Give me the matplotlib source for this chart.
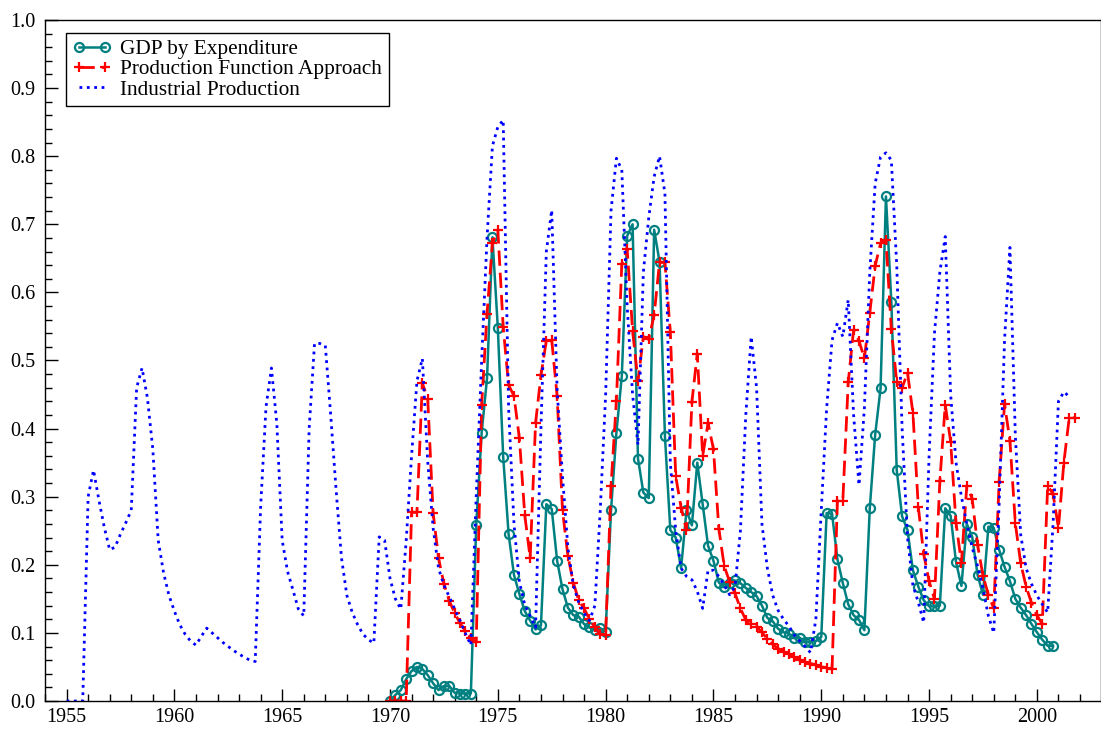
import numpy as np
import matplotlib.pyplot as plt
from matplotlib.ticker import MultipleLocator, FormatStrFormatter

plt.rcParams['font.family'] = ['Liberation Serif', 'DejaVu Serif']

# 季度数据 (quarterly)
gdp_start = 1970.0
gdp = [0.000, 0.009, 0.016, 0.032,
       0.044, 0.050, 0.047, 0.038,
       0.026, 0.016, 0.022, 0.022,
       0.012, 0.011, 0.011, 0.011,
       0.258, 0.394, 0.474, 0.681,
       0.548, 0.358, 0.245, 0.185,
       0.157, 0.132, 0.118, 0.105,
       0.111, 0.289, 0.282, 0.206,
       0.164, 0.137, 0.126, 0.124,
       0.113, 0.108, 0.104, 0.107,
       0.102, 0.280, 0.394, 0.477,
       0.683, 0.700, 0.356, 0.306,
       0.298, 0.692, 0.645, 0.389,
       0.251, 0.240, 0.195, 0.280,
       0.258, 0.350, 0.289, 0.228,
       0.206, 0.174, 0.167, 0.174,
       0.177, 0.173, 0.166, 0.160,
       0.154, 0.140, 0.122, 0.117,
       0.106, 0.101, 0.099, 0.092,
       0.093, 0.086, 0.087, 0.088,
       0.094, 0.276, 0.275, 0.208,
       0.173, 0.142, 0.126, 0.119,
       0.104, 0.283, 0.391, 0.459,
       0.741, 0.586, 0.339, 0.271,
       0.251, 0.192, 0.168, 0.148,
       0.139, 0.139, 0.140, 0.283,
       0.272, 0.204, 0.169, 0.260,
       0.241, 0.185, 0.156, 0.256,
       0.254, 0.222, 0.197, 0.176,
       0.150, 0.137, 0.126, 0.113,
       0.101, 0.090, 0.081, 0.081]

pfa_start = 1970.0
pfa = [0.000, 0.000, 0.000, 0.000,
       0.277, 0.277, 0.467, 0.443,
       0.276, 0.210, 0.172, 0.147,
       0.129, 0.114, 0.103, 0.092,
       0.087, 0.435, 0.569, 0.672,
       0.692, 0.549, 0.464, 0.448,
       0.386, 0.273, 0.210, 0.408,
       0.478, 0.529, 0.530, 0.448,
       0.280, 0.213, 0.174, 0.148,
       0.136, 0.120, 0.109, 0.098,
       0.097, 0.316, 0.441, 0.642,
       0.663, 0.544, 0.470, 0.535,
       0.531, 0.567, 0.644, 0.644,
       0.542, 0.330, 0.284, 0.251,
       0.439, 0.510, 0.360, 0.408,
       0.370, 0.253, 0.198, 0.175,
       0.158, 0.136, 0.119, 0.113,
       0.109, 0.101, 0.091, 0.083,
       0.077, 0.072, 0.069, 0.064,
       0.060, 0.058, 0.055, 0.053,
       0.050, 0.049, 0.047, 0.294,
       0.294, 0.468, 0.545, 0.529,
       0.503, 0.570, 0.639, 0.672,
       0.677, 0.546, 0.469, 0.460,
       0.482, 0.423, 0.285, 0.216,
       0.176, 0.150, 0.323, 0.435,
       0.381, 0.261, 0.203, 0.316,
       0.297, 0.229, 0.184, 0.156,
       0.136, 0.322, 0.436, 0.382,
       0.261, 0.202, 0.168, 0.144,
       0.126, 0.113, 0.316, 0.304,
       0.254, 0.350, 0.416, 0.416]

ip_start = 1955.0
ip = [0.000, 0.000, 0.000, 0.000,
      0.300, 0.339, 0.295, 0.255,
      0.222, 0.226, 0.245, 0.262,
      0.280, 0.460, 0.489, 0.445,
      0.370, 0.236, 0.188, 0.155,
      0.132, 0.112, 0.098, 0.088,
      0.082, 0.095, 0.107, 0.100,
      0.093, 0.086, 0.080, 0.074,
      0.069, 0.064, 0.060, 0.058,
      0.285, 0.432, 0.489, 0.408,
      0.236, 0.190, 0.163, 0.135,
      0.125, 0.400, 0.525, 0.525,
      0.522, 0.420, 0.310, 0.210,
      0.155, 0.130, 0.112, 0.098,
      0.090, 0.085, 0.241, 0.236,
      0.180, 0.150, 0.135, 0.235,
      0.360, 0.470, 0.503, 0.351,
      0.254, 0.195, 0.170, 0.153,
      0.135, 0.118, 0.099, 0.082,
      0.302, 0.500, 0.680, 0.815,
      0.843, 0.853, 0.430, 0.260,
      0.175, 0.141, 0.125, 0.108,
      0.401, 0.660, 0.721, 0.457,
      0.330, 0.225, 0.170, 0.145,
      0.129, 0.118, 0.140, 0.280,
      0.449, 0.720, 0.797, 0.780,
      0.579, 0.450, 0.376, 0.630,
      0.710, 0.770, 0.800, 0.745,
      0.350, 0.250, 0.195, 0.183,
      0.178, 0.161, 0.136, 0.192,
      0.192, 0.183, 0.170, 0.156,
      0.168, 0.250, 0.420, 0.535,
      0.460, 0.260, 0.195, 0.155,
      0.133, 0.120, 0.110, 0.097,
      0.088, 0.080, 0.071, 0.120,
      0.280, 0.430, 0.530, 0.555,
      0.535, 0.589, 0.420, 0.317,
      0.430, 0.630, 0.760, 0.799,
      0.805, 0.794, 0.640, 0.400,
      0.240, 0.170, 0.145, 0.115,
      0.360, 0.540, 0.630, 0.682,
      0.450, 0.350, 0.300, 0.260,
      0.225, 0.198, 0.165, 0.125,
      0.100, 0.290, 0.530, 0.666,
      0.390, 0.244, 0.195, 0.172,
      0.155, 0.142, 0.130, 0.260,
      0.440, 0.454, 0.447]


def quarters(start, n):
    # 季度时间轴
    return start + 0.25 * np.arange(n)


fig = plt.figure(figsize=(11.01, 7.33), dpi=100)
ax = fig.add_axes([45 / 1101, 32 / 733, 1055.5 / 1101, 681 / 733])

ax.plot(quarters(gdp_start, len(gdp)), gdp, color='#008080', lw=1.8,
        marker='o', ms=6.5, mfc='none', mew=1.6, label='GDP by Expenditure')
ax.plot(quarters(pfa_start, len(pfa)), pfa, color='#ff0000', lw=2,
        ls=(0, (5.5, 2.5)), marker='+', ms=7, mew=1.6,
        label='Production Function Approach')
ax.plot(quarters(ip_start, len(ip)), ip, color='#0000ff', lw=2, ls=':',
        label='Industrial Production')

ax.set_xlim(1954, 2002.95)
ax.set_ylim(0, 1)
ax.xaxis.set_major_locator(MultipleLocator(5))
ax.xaxis.set_minor_locator(MultipleLocator(1))
ax.yaxis.set_major_locator(MultipleLocator(0.1))
ax.yaxis.set_minor_locator(MultipleLocator(0.02))
ax.yaxis.set_major_formatter(FormatStrFormatter('%.1f'))
ax.tick_params(which='major', direction='in', length=9, width=1, labelsize=14.5)
ax.tick_params(which='minor', direction='in', length=5, width=1)
ax.tick_params(axis='x', pad=5)
ax.tick_params(axis='y', pad=7)
for s in ax.spines.values():
    s.set_linewidth(1)

leg = ax.legend(loc='upper left', bbox_to_anchor=(0.02, 0.981), borderaxespad=0,
                numpoints=2, fontsize=15.3, handlelength=1.85, handletextpad=0.4,
                labelspacing=0.02, borderpad=0.3, fancybox=False,
                edgecolor='black', framealpha=1)
leg.get_frame().set_linewidth(1)

plt.savefig('out.png', dpi=100)
